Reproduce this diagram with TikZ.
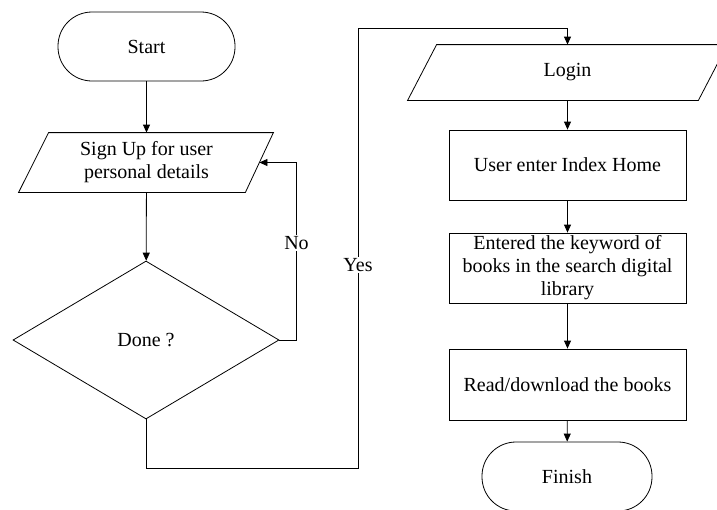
\documentclass[tikz,border=0pt]{standalone}
\usepackage{fontspec}
\setmainfont{Liberation Serif}
\usetikzlibrary{shapes.geometric,arrows.meta,calc}
\begin{document}
\begin{tikzpicture}[x=1pt,y=-1pt,
  font=\fontsize{20}{23}\selectfont,
  line width=0.8pt,
  arr/.style={-{Triangle[length=8pt,width=7pt]}},
  term/.style={draw, rounded corners=34pt, minimum width=#1, minimum height=69pt, inner sep=0pt},
  para/.style={minimum width=#1, inner sep=0pt, align=center},
  proc/.style={draw, minimum width=237pt, inner sep=0pt, align=center},
  lbl/.style={fill=white, inner sep=1.5pt}]
\useasboundingbox (0,0) rectangle (717,509);

% left column
\node[term=177pt] (start) at (146.5,46.5) {Start};
\node[para=225pt, minimum height=59pt] (signup) at (146.5,162.5) {Sign Up for user\\personal details};
\draw ($(signup.north west)+(15,0)$) -- ($(signup.north east)+(14,0)$) --
      ($(signup.south east)+(-14,0)$) -- ($(signup.south west)+(-15,0)$) -- cycle;
\node[draw, diamond, aspect=1.68, minimum width=266pt, minimum height=158pt, inner sep=0pt] (done) at (146,340) {Done ?};

% right column
\node[para=290pt, minimum height=55pt] (login) at (567.5,72.5) {Login};
\draw ($(login.north west)+(14.5,0)$) -- ($(login.north east)+(14.5,0)$) --
      ($(login.south east)+(-14.5,0)$) -- ($(login.south west)+(-14.5,0)$) -- cycle;
\node[proc, minimum height=70pt] (home) at (567.5,165) {User enter Index Home};
\node[proc, minimum height=70pt] (search) at (567.5,268) {Entered the keyword of\\books in the search digital\\library};
\node[proc, minimum height=71pt] (read) at (567.5,384.5) {Read/download the books};
\node[term=170pt] (finish) at (567,476.5) {Finish};

% connectors
\draw[arr] (start) -- (signup);
\draw[arr] (signup) -- (done);
\draw[arr] (done.east) -- ++(17,0) |- (signup.east);
\coordinate (ya) at (358,468);
\coordinate (yb) at (358,28);
\draw[arr] (done.south) |- (ya) -- (yb) -| (login.north);
\draw[arr] (login) -- (home);
\draw[arr] (home) -- (search);
\draw[arr] (search) -- (read);
\draw[arr] (read) -- (finish);

\node[lbl] (no) at (296.5,243) {No};
\node[lbl] (yes) at (358,265) {Yes};
\end{tikzpicture}
\end{document}
